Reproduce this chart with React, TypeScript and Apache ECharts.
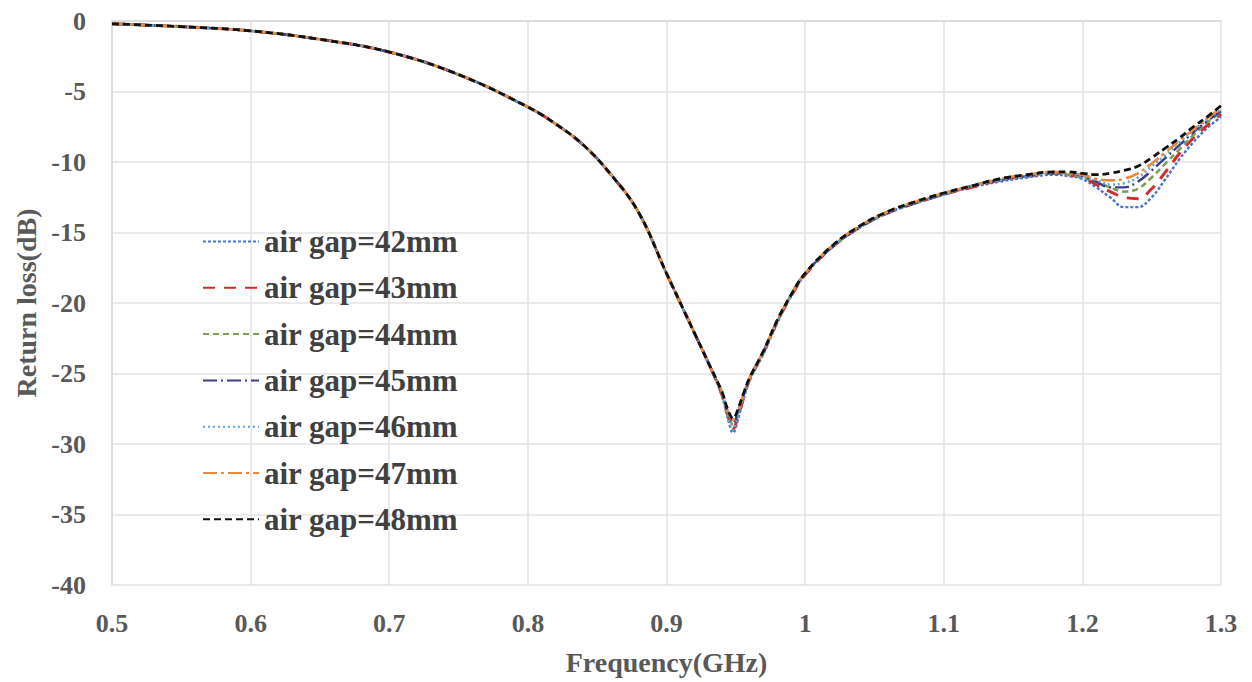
import React, { useEffect, useRef } from "react";
import * as echarts from "echarts";

const xTicks = [0.5, 0.6, 0.7, 0.8, 0.9, 1.0, 1.1, 1.2, 1.3];
const yTicks = [0, -5, -10, -15, -20, -25, -30, -35, -40];

// shared part of the curve (all air gaps overlap here)
const freqCommon = [0.5, 0.55, 0.6, 0.65, 0.7, 0.75, 0.8, 0.82, 0.84, 0.86, 0.88, 0.9, 0.91, 0.92, 0.93];
const lossCommon = [-0.2, -0.4, -0.7, -1.3, -2.2, -3.8, -6.1, -7.3, -8.8, -10.9, -13.6, -17.9, -20.0, -22.1, -24.2];

// part where the air gaps differ
const freqTail = [
  0.94, 0.944, 0.948, 0.952, 0.956, 0.96, 0.97, 0.98, 0.99, 1.0,
  1.02, 1.04, 1.06, 1.08, 1.1, 1.12, 1.14, 1.16, 1.18,
  1.19, 1.2, 1.21, 1.22, 1.23, 1.24, 1.25, 1.26, 1.27, 1.28, 1.29, 1.3,
];

const gap42 = [
  -26.6, -28.1, -29.2, -28.1, -26.7, -25.5, -23.6, -21.4, -19.5, -18.0,
  -16.0, -14.6, -13.6, -12.9, -12.3, -11.8, -11.4, -11.1, -10.9,
  -11.0, -11.2, -11.8, -12.5, -13.2, -13.2, -12.5, -11.2, -9.8, -8.6, -7.6, -6.8,
];
const gap43 = [
  -26.5, -27.9, -28.9, -27.9, -26.6, -25.4, -23.5, -21.3, -19.5, -18.0,
  -16.0, -14.6, -13.6, -12.9, -12.3, -11.8, -11.3, -11.0, -10.8,
  -10.9, -11.1, -11.6, -12.1, -12.5, -12.6, -11.9, -10.7, -9.4, -8.3, -7.4, -6.6,
];
const gap44 = [
  -26.4, -27.8, -28.6, -27.7, -26.5, -25.4, -23.5, -21.3, -19.4, -17.9,
  -16.0, -14.6, -13.6, -12.9, -12.3, -11.7, -11.3, -11.0, -10.8,
  -10.9, -11.1, -11.4, -11.8, -12.1, -11.9, -11.1, -10.1, -9.1, -8.1, -7.2, -6.5,
];
const gap45 = [
  -26.4, -27.7, -28.5, -27.6, -26.4, -25.3, -23.4, -21.3, -19.4, -17.9,
  -16.0, -14.6, -13.6, -12.9, -12.3, -11.7, -11.3, -11.0, -10.8,
  -10.8, -11.0, -11.4, -11.8, -11.8, -11.4, -10.6, -9.7, -8.8, -7.9, -7.1, -6.4,
];
const gap46 = [
  -26.5, -28.0, -29.0, -27.8, -26.5, -25.4, -23.5, -21.3, -19.4, -17.9,
  -16.0, -14.6, -13.6, -12.9, -12.3, -11.7, -11.3, -11.0, -10.8,
  -10.8, -11.0, -11.3, -11.6, -11.5, -11.1, -10.3, -9.5, -8.6, -7.8, -7.0, -6.3,
];
const gap47 = [
  -26.3, -27.6, -28.3, -27.5, -26.4, -25.3, -23.4, -21.2, -19.4, -17.9,
  -15.9, -14.5, -13.5, -12.8, -12.2, -11.7, -11.2, -10.9, -10.7,
  -10.8, -10.9, -11.2, -11.3, -11.2, -10.8, -10.1, -9.3, -8.5, -7.7, -6.9, -6.2,
];
const gap48 = [
  -26.3, -27.5, -28.2, -27.4, -26.3, -25.3, -23.4, -21.2, -19.4, -17.9,
  -15.9, -14.5, -13.5, -12.8, -12.2, -11.7, -11.2, -10.9, -10.7,
  -10.7, -10.8, -10.9, -10.8, -10.6, -10.3, -9.7, -9.0, -8.3, -7.5, -6.8, -6.0,
];

const seriesNames = [
  "air gap=42mm",
  "air gap=43mm",
  "air gap=44mm",
  "air gap=45mm",
  "air gap=46mm",
  "air gap=47mm",
  "air gap=48mm",
];
const seriesValues = [gap42, gap43, gap44, gap45, gap46, gap47, gap48];
const seriesColors = ["#4a74c9", "#d42a2a", "#7e9c56", "#3c3c8c", "#5aa7cf", "#e8893e", "#111111"];
const seriesDash: any[] = [
  [3, 2],
  [12, 9],
  [6, 4],
  [14, 4, 2, 4],
  [2, 3],
  [14, 4, 3, 4],
  [7, 4],
];
const seriesWidth = [2.4, 3, 2.6, 2.4, 2.6, 2.6, 2.8];

const FONT = "'Liberation Serif', 'Times New Roman', serif";

export default function App() {
  const ref = useRef<HTMLDivElement>(null);
  useEffect(() => {
    if (!ref.current) return;
    const chart = echarts.init(ref.current, undefined, { renderer: "svg" });
    const freqAll = freqCommon.concat(freqTail);
    const series = seriesNames.map((name, k) => ({
      name,
      type: "line",
      data: freqAll.map((f, i) => [f, lossCommon.concat(seriesValues[k])[i]]),
      showSymbol: false,
      symbol: "none",
      smooth: 0.4,
      lineStyle: { color: seriesColors[k], width: seriesWidth[k], type: seriesDash[k] },
      itemStyle: { color: seriesColors[k] },
      z: 2 + k,
    }));
    chart.setOption({
      animation: false,
      backgroundColor: "#ffffff",
      grid: { left: 112, right: 31, top: 21, bottom: 97, containLabel: false },
      legend: {
        orient: "vertical",
        left: 197,
        top: 221,
        itemWidth: 56,
        itemHeight: 14,
        itemGap: 15.3,
        data: seriesNames,
        itemStyle: { opacity: 0 },
        textStyle: { fontFamily: FONT, fontWeight: "bold", fontSize: 31, color: "#404040", lineHeight: 28 },
      },
      xAxis: {
        type: "value",
        min: 0.5,
        max: 1.3,
        interval: 0.1,
        name: "Frequency(GHz)",
        nameLocation: "middle",
        nameGap: 63,
        nameTextStyle: { fontFamily: FONT, fontWeight: "bold", fontSize: 28, color: "#595959" },
        axisLine: { show: true, lineStyle: { color: "#d9d9d9", width: 1.5 } },
        axisTick: { show: false },
        splitLine: { show: true, lineStyle: { color: "#e3e3e3", width: 1.5 } },
        axisLabel: {
          margin: 25,
          fontFamily: FONT,
          fontWeight: "bold",
          fontSize: 26,
          color: "#595959",
          formatter: (v: number) => {
            const r = Math.round(v * 10) / 10;
            return xTicks.includes(r) ? String(r) : "";
          },
        },
      },
      yAxis: {
        type: "value",
        min: -40,
        max: 0,
        interval: 5,
        name: "Return loss(dB)",
        nameLocation: "middle",
        nameGap: 71,
        nameTextStyle: { fontFamily: FONT, fontWeight: "bold", fontSize: 28, color: "#595959" },
        axisLine: { show: true, lineStyle: { color: "#d9d9d9", width: 1.5 } },
        axisTick: { show: false },
        splitLine: { show: true, lineStyle: { color: "#e3e3e3", width: 1.5 } },
        axisLabel: {
          margin: 26,
          fontFamily: FONT,
          fontWeight: "bold",
          fontSize: 26,
          color: "#595959",
          formatter: (v: number) => (yTicks.includes(v) ? String(v) : ""),
        },
      },
      series,
    });
    return () => chart.dispose();
  }, []);
  return (
    <div
      ref={ref}
      style={{ position: "fixed", left: 0, top: 0, width: 1252, height: 682, background: "#fff" }}
    />
  );
}
